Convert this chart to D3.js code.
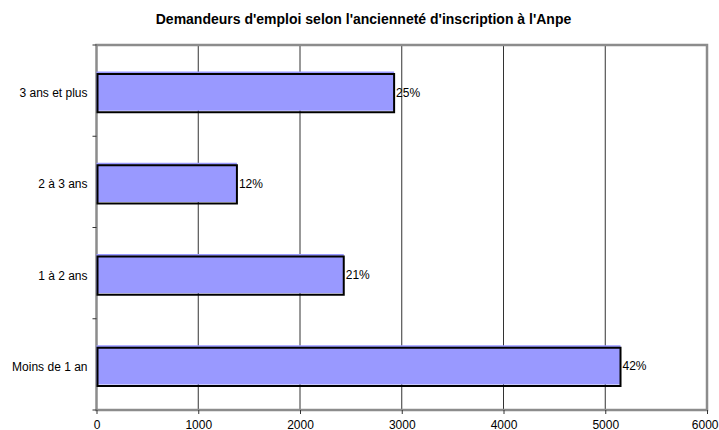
<!DOCTYPE html>
<html><head><meta charset="utf-8">
<script src="https://cdn.jsdelivr.net/npm/d3@7"></script>
<style>body{margin:0;background:#fff}svg{display:block;font-family:"Liberation Sans",Arial,sans-serif}</style>
</head><body><svg id="c" width="719" height="430"></svg>
<script>
const categories = ["3 ans et plus", "2 à 3 ans", "1 à 2 ans", "Moins de 1 an"];
const values = [2925, 1380, 2430, 5150];
const labels = ["25%", "12%", "21%", "42%"];
const xTicks = [0, 1000, 2000, 3000, 4000, 5000, 6000];
const title = "Demandeurs d'emploi selon l'ancienneté d'inscription à l'Anpe";

const svg = d3.select("#c");
const L = 96.5, R = 707, T = 45, B = 410;
const x = d3.scaleLinear().domain([0, 6000]).range([L, R]);
const y = d3.scaleBand().domain(categories).range([T, B]).paddingInner(0.57).paddingOuter(0.285);

svg.append("text").attr("x", 363.5).attr("y", 23.5).attr("text-anchor", "middle")
  .attr("font-size", 14).attr("font-weight", "bold").text(title);

// gridlines
svg.append("g").selectAll("line").data(xTicks.filter(d => d > 0 && d < 6000)).join("line")
  .attr("x1", d => x(d)).attr("x2", d => x(d)).attr("y1", T).attr("y2", B)
  .attr("stroke", "#333").attr("stroke-width", 1);

// frame
svg.append("rect").attr("x", L).attr("y", T).attr("width", R - L).attr("height", B - T)
  .attr("fill", "none").attr("stroke", "#8c8c8c").attr("stroke-width", 2.5);

// bars
const g = svg.append("g");
g.selectAll("rect.fill").data(categories).join("rect").attr("class", "fill")
  .attr("x", L).attr("y", d => y(d) + 0.5)
  .attr("width", (d, i) => x(values[i]) - L).attr("height", y.bandwidth())
  .attr("fill", "#9999ff");
g.selectAll("rect.edge").data(categories).join("rect").attr("class", "edge")
  .attr("x", L + 1).attr("y", d => y(d) + 3)
  .attr("width", (d, i) => x(values[i]) - L - 1).attr("height", y.bandwidth() - 1)
  .attr("fill", "none").attr("stroke", "#000").attr("stroke-width", 2);

g.selectAll("text.val").data(categories).join("text").attr("class", "val")
  .attr("x", (d, i) => x(values[i]) + 2).attr("y", d => y(d) + y.bandwidth() / 2 + 6)
  .attr("font-size", 12).text((d, i) => labels[i]);

// x axis
const xa = svg.append("g").attr("transform", `translate(0,${B})`)
  .call(d3.axisBottom(x).tickValues(xTicks).tickSize(4).tickPadding(0).tickFormat(d3.format("d")));
xa.select(".domain").remove();
xa.selectAll("line").attr("stroke", "#333");
xa.selectAll("text").attr("font-size", 12).attr("font-family", "Liberation Sans, Arial, sans-serif")
  .attr("fill", "#000").attr("dy", null).attr("y", 19);
xa.selectAll(".tick:last-of-type text").attr("text-anchor", "end").attr("dx", 11);

// y axis
const ya = svg.append("g").attr("transform", `translate(${L},0)`)
  .call(d3.axisLeft(y).tickSize(0).tickPadding(9));
ya.select(".domain").remove();
ya.selectAll("text").attr("font-size", 12).attr("font-family", "Liberation Sans, Arial, sans-serif").attr("fill", "#000").attr("dy", "0.55em");
// category boundary ticks
const step = (B - T) / categories.length;
svg.append("g").selectAll("line").data(d3.range(categories.length + 1)).join("line")
  .attr("x1", L - 4).attr("x2", L).attr("y1", i => T + i * step).attr("y2", i => T + i * step)
  .attr("stroke", "#333");
</script></body></html>
